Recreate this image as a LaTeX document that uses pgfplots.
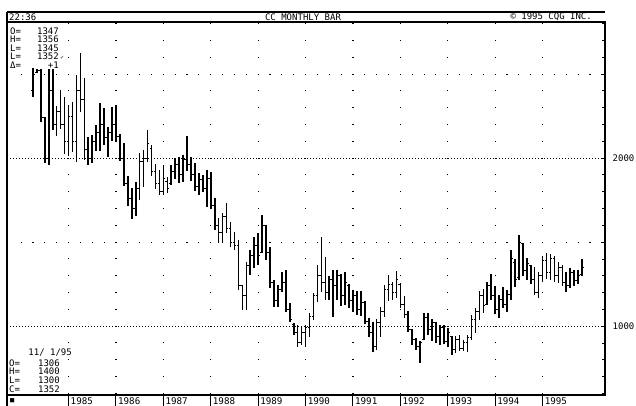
\documentclass[border=0pt]{standalone}
\usepackage{fontspec}
\usepackage{pgfplots}
\usepackage{pgfplotstable}
\pgfplotsset{compat=1.18}

\newfontfamily\cqgmono{DejaVu Sans Mono}
\newfontfamily\cqgsym{DejaVu Sans}
\newcommand\infofont{\cqgmono\fontsize{9bp}{10bp}\selectfont}
\newcommand\yearfont{\cqgmono\fontsize{9.2bp}{10bp}\selectfont}

% open tick to the left, close tick to the right of each bar
\pgfdeclareplotmark{otick}{%
  \pgfpathmoveto{\pgfpointorigin}%
  \pgfpathlineto{\pgfqpoint{-\pgfplotmarksize}{0pt}}%
  \pgfusepathqstroke}
\pgfdeclareplotmark{ctick}{%
  \pgfpathmoveto{\pgfpointorigin}%
  \pgfpathlineto{\pgfqpoint{\pgfplotmarksize}{0pt}}%
  \pgfusepathqstroke}

% cocoa, monthly bars: month index (0 = Apr 1984), open, high, low, close
\pgfplotstableread{
i o h l c
0 2400 2536 2363 2500
1 2510 2530 2505 2520
2 2520 2530 2214 2240
3 2240 2244 1970 2000
4 2000 2530 1958 2400
5 2400 2530 2167 2200
6 2200 2310 2131 2280
7 2280 2405 2173 2200
8 2200 2363 2024 2100
9 2100 2315 2012 2250
10 2250 2333 2036 2100
11 2100 2494 1976 2400
12 2400 2625 2274 2350
13 2350 2476 1988 2050
14 2050 2125 1958 2000
15 2000 2137 1970 2100
16 2100 2196 2042 2150
17 2150 2327 2042 2200
18 2200 2298 2077 2120
19 2120 2184 2006 2150
20 2150 2304 2101 2200
21 2200 2315 2101 2130
22 2130 2143 1982 2000
23 2000 2089 1833 1850
24 1850 1893 1714 1760
25 1760 1821 1637 1700
26 1700 1857 1655 1820
27 1820 2030 1750 1980
28 1980 2048 1827 2000
29 2000 2167 1976 2090
30 2060 2077 1893 1920
31 1920 1964 1815 1850
32 1850 1929 1780 1800
33 1800 1958 1780 1880
34 1860 1887 1792 1820
35 1850 1958 1839 1920
36 1920 2000 1875 1960
37 1960 2006 1851 1900
38 1900 2018 1857 1990
39 1990 2131 1923 1960
40 1960 2006 1863 1900
41 1900 1970 1804 1830
42 1830 1911 1780 1870
43 1870 1899 1798 1820
44 1820 1929 1708 1880
45 1880 1917 1696 1720
46 1720 1762 1571 1600
47 1600 1643 1494 1560
48 1560 1673 1494 1650
49 1650 1732 1554 1580
50 1580 1619 1470 1500
51 1500 1559 1452 1480
52 1480 1512 1214 1240
53 1240 1244 1095 1180
54 1180 1381 1095 1360
55 1360 1452 1304 1420
56 1420 1530 1345 1480
57 1480 1554 1363 1420
58 1440 1661 1435 1600
59 1600 1601 1393 1440
60 1440 1470 1226 1260
61 1260 1274 1113 1150
62 1150 1244 1113 1220
63 1220 1321 1202 1260
64 1260 1333 1083 1100
65 1100 1137 1024 1040
66 1010 1018 946 960
67 960 1006 875 900
68 900 994 887 960
69 960 1006 875 990
70 990 1077 935 1060
71 1060 1196 1036 1180
72 1180 1363 1143 1300
73 1300 1530 1202 1260
74 1260 1411 1155 1200
75 1200 1298 1155 1280
76 1280 1333 1054 1240
77 1240 1333 1155 1300
78 1300 1310 1119 1180
79 1180 1321 1125 1260
80 1240 1250 1107 1150
81 1150 1214 1083 1180
82 1180 1208 1065 1100
83 1100 1208 1060 1140
84 1140 1149 1012 1030
85 1030 1048 935 960
86 960 1024 845 880
87 880 1042 857 1020
88 1020 1113 935 1090
89 1090 1244 1054 1220
90 1220 1304 1149 1250
91 1250 1262 1155 1200
92 1200 1327 1167 1280
93 1250 1256 1107 1130
94 1130 1179 1048 1070
95 1070 1089 964 980
96 980 982 887 920
97 920 929 857 880
98 880 911 780 900
99 920 1077 917 1050
100 1050 1077 946 980
101 980 1042 911 1020
102 1020 1024 899 940
103 940 1006 887 990
104 990 1006 893 910
105 910 988 875 960
106 940 940 827 860
107 860 940 839 920
108 920 946 851 870
109 870 917 851 900
110 900 946 845 930
111 930 1065 917 1040
112 1040 1107 958 1090
113 1090 1208 1036 1180
114 1180 1220 1077 1120
115 1130 1262 1125 1240
116 1240 1310 1155 1180
117 1180 1238 1071 1100
118 1100 1185 1048 1160
119 1160 1232 1107 1130
120 1130 1214 1083 1190
121 1190 1452 1155 1400
122 1380 1399 1232 1280
123 1290 1542 1274 1500
124 1490 1494 1298 1330
125 1330 1405 1274 1370
126 1360 1363 1250 1280
127 1280 1351 1185 1200
128 1200 1321 1167 1300
129 1300 1417 1262 1390
130 1390 1435 1280 1320
131 1320 1429 1274 1400
132 1400 1417 1262 1300
133 1300 1381 1256 1350
134 1350 1363 1238 1260
135 1260 1321 1202 1240
136 1240 1345 1226 1320
137 1320 1333 1238 1270
138 1270 1333 1250 1300
139 1306 1400 1300 1352
}\bars

\begin{document}
\begin{tikzpicture}
\useasboundingbox (0bp,0bp) rectangle (636bp,406bp);
\begin{axis}[
  at={(7bp,11bp)}, anchor=south west,
  width=598bp, height=373bp, scale only axis,
  xmin=-6.582, xmax=144.81, ymin=590, ymax=2810,
  clip=false,
  axis line style={line width=1.3bp},
  xtick={9,21,...,129},
  xticklabels={1985,1986,1987,1988,1989,1990,1991,1992,1993,1994,1995},
  xticklabel style={font=\yearfont, anchor=north west, inner sep=0pt, xshift=2bp, yshift=-2bp},
  xtick style={draw=none},
  xmajorgrids,
  major grid style={black, line width=1.1bp, dash pattern=on 1.1bp off 15.702bp, dash phase=15.672bp},
  ytick={1000,2000},
  yticklabels={1000,2000},
  minor ytick={600,700,...,2800},
  ytick pos=right, yticklabel pos=right,
  yticklabel style={font=\infofont, anchor=west, inner sep=0pt, xshift=7.5bp},
  major tick length=4bp, minor tick length=3bp,
  ytick style={black, line width=0.8bp},
  minor tick style={black, line width=0.8bp},
]
% horizontal guide rows
\draw[black, line width=1bp, dash pattern=on 1bp off 2bp] (axis cs:-6.582,1000) -- (axis cs:144.81,1000);
\draw[black, line width=1bp, dash pattern=on 1bp off 2bp] (axis cs:-6.582,2000) -- (axis cs:144.81,2000);
\draw[black, line width=1.1bp, dash pattern=on 1.1bp off 10.75bp] (axis cs:-3.14,1500) -- (axis cs:144.2,1500);
\draw[black, line width=1.1bp, dash pattern=on 1.1bp off 10.75bp] (axis cs:-3.14,2500) -- (axis cs:144.2,2500);
% year separators in the label row
\pgfplotsinvokeforeach{9,21,33,45,57,69,81,93,105,117,129}{
  \draw[black, line width=1bp] (axis cs:#1,590) -- (axis cs:#1,524.5);
}
% high-low bars
\addplot[draw=none, mark=none, forget plot,
  error bars/.cd, y dir=both, y explicit, error mark=none,
  error bar style={draw=black, solid, line width=1.6bp}]
  table[x=i, y expr={(\thisrow{h}+\thisrow{l})/2},
        y error plus expr={(\thisrow{h}-\thisrow{l})/2},
        y error minus expr={(\thisrow{h}-\thisrow{l})/2}] {\bars};
% open and close ticks
\addplot[only marks, mark=otick, mark size=1.9bp, mark options={black, solid, line width=0.9bp}]
  table[x=i, y=o] {\bars};
\addplot[only marks, mark=ctick, mark size=1.9bp, mark options={black, solid, line width=0.9bp}]
  table[x=i, y=c] {\bars};
\end{axis}

% header band
\draw[black, line width=1.2bp] (7bp,394bp) -- (605bp,394bp);
\draw[black, line width=1.3bp] (7bp,394bp) -- (7bp,384bp);
\draw[black, line width=1.3bp] (7bp,11bp) -- (7bp,0bp);
\node[font=\infofont, anchor=west, inner sep=0pt] at (9bp,389bp) {22:36};
\node[font=\infofont, inner sep=0pt] at (303bp,389bp) {CC MONTHLY BAR};
\node[font=\infofont, anchor=east, inner sep=0pt] at (592bp,389bp) {© 1995 CQG INC.};

% quote box, upper left
\node[font=\infofont, anchor=west, inner sep=0pt] at (10bp,375bp) {O=};
\node[font=\infofont, anchor=west, inner sep=0pt] at (10bp,366.5bp) {H=};
\node[font=\infofont, anchor=west, inner sep=0pt] at (10bp,358bp) {L=};
\node[font=\infofont, anchor=west, inner sep=0pt] at (10bp,349.5bp) {L=};
\node[font=\infofont, anchor=west, inner sep=0pt] at (10bp,341bp) {Δ=};
\node[font=\infofont, anchor=east, inner sep=0pt] at (59bp,375bp) {1347};
\node[font=\infofont, anchor=east, inner sep=0pt] at (59bp,366.5bp) {1356};
\node[font=\infofont, anchor=east, inner sep=0pt] at (59bp,358bp) {1345};
\node[font=\infofont, anchor=east, inner sep=0pt] at (59bp,349.5bp) {1352};
\node[font=\cqgsym\fontsize{5bp}{6bp}\selectfont, anchor=west, inner sep=0pt] at (60bp,348bp) {✓};
\node[font=\infofont, anchor=east, inner sep=0pt] at (59bp,341bp) {+1};

% quote box, lower left
\node[font=\infofont, anchor=east, inner sep=0pt] at (72bp,53bp) {11/ 1/95};
\node[font=\infofont, anchor=west, inner sep=0pt] at (9bp,43bp) {O=};
\node[font=\infofont, anchor=west, inner sep=0pt] at (9bp,34.5bp) {H=};
\node[font=\infofont, anchor=west, inner sep=0pt] at (9bp,26bp) {L=};
\node[font=\infofont, anchor=west, inner sep=0pt] at (9bp,17bp) {C=};
\node[font=\infofont, anchor=east, inner sep=0pt] at (60bp,43bp) {1306};
\node[font=\infofont, anchor=east, inner sep=0pt] at (60bp,34.5bp) {1400};
\node[font=\infofont, anchor=east, inner sep=0pt] at (60bp,26bp) {1300};
\node[font=\infofont, anchor=east, inner sep=0pt] at (60bp,17bp) {1352};
\node[font=\cqgmono\fontsize{7bp}{8bp}\selectfont, anchor=west, inner sep=0pt] at (10bp,5.5bp) {■};
\end{tikzpicture}
\end{document}
